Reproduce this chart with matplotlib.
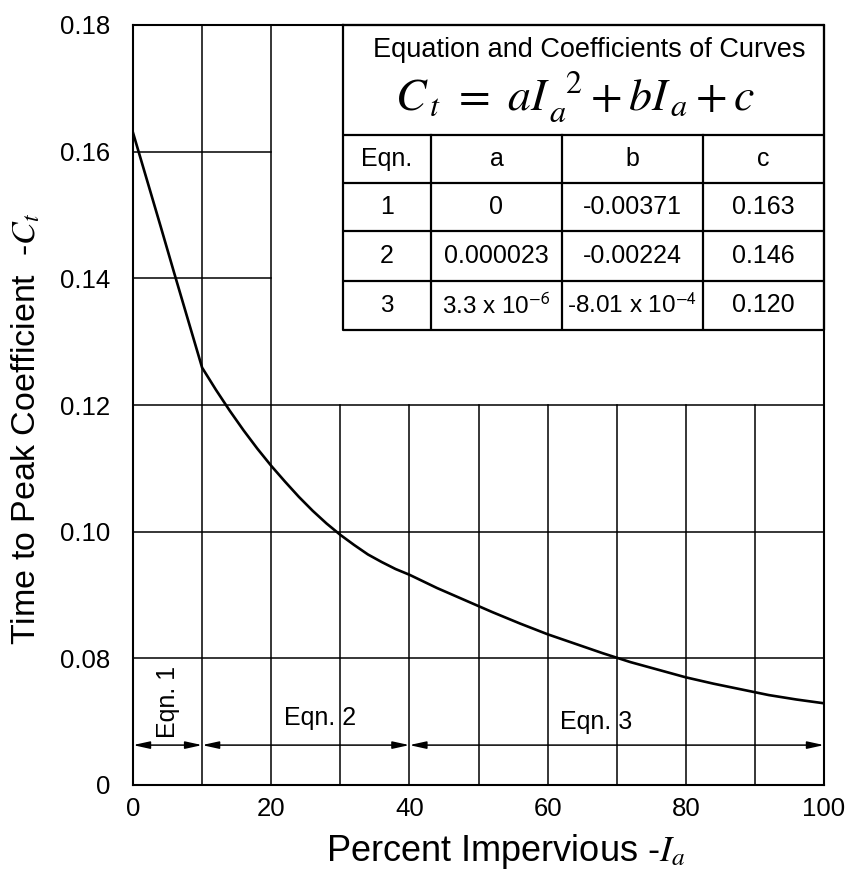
import matplotlib
matplotlib.use("Agg")
import matplotlib.pyplot as plt

plt.rcParams['font.family'] = ['Liberation Sans', 'DejaVu Sans']
plt.rcParams['mathtext.fontset'] = 'stix'

# Curve
impervious = [0, 2, 4, 6, 8, 10, 12, 14, 16, 18, 20, 22, 24, 26, 28, 30, 32, 34, 36, 38, 40,
              44, 48, 52, 56, 60, 64, 68, 72, 76, 80, 84, 88, 92, 96, 100]
ct = [0.1630, 0.1556, 0.1482, 0.1407, 0.1333, 0.1259, 0.1224, 0.1191, 0.1160, 0.1131, 0.1104,
      0.1079, 0.1055, 0.1033, 0.1013, 0.0995, 0.0979, 0.0964, 0.0952, 0.0941, 0.0932,
      0.0911, 0.0892, 0.0873, 0.0855, 0.0838, 0.0823, 0.0808, 0.0794, 0.0782, 0.0770,
      0.0760, 0.0751, 0.0742, 0.0735, 0.0729]

x_ticks = [0, 20, 40, 60, 80, 100]
y_ticks = [0.06, 0.08, 0.10, 0.12, 0.14, 0.16, 0.18]
y_tick_labels = ['0', '0.08', '0.10', '0.12', '0.14', '0.16', '0.18']

# equation ranges
eqn_labels = ['Eqn. 1', 'Eqn. 2', 'Eqn. 3']
eqn_ranges = [(0, 10), (10, 40), (40, 100)]

table_header = ['Eqn.', 'a', 'b', 'c']
table_rows = [
    ['1', '0', '-0.00371', '0.163'],
    ['2', '0.000023', '-0.00224', '0.146'],
    ['3', r'3.3 x 10$^{\mathsf{-6}}$', r'-8.01 x 10$^{\mathsf{-4}}$', '0.120'],
]

W, H = 851, 874
fig = plt.figure(figsize=(W / 100, H / 100), dpi=100)
ax = fig.add_axes([133 / W, 1 - 785 / H, (824 - 133) / W, (785 - 25) / H])
ax.set_xlim(0, 100)
ax.set_ylim(0.06, 0.18)

lc = 'black'
glw = 1.1
# grid lines
for yv in [0.08, 0.10, 0.12]:
    ax.plot([0, 100], [yv, yv], color=lc, lw=glw)
for yv in [0.14, 0.16]:
    ax.plot([0, 20], [yv, yv], color=lc, lw=glw)
for xv in [10, 20]:
    ax.plot([xv, xv], [0.06, 0.18], color=lc, lw=glw)
for xv in [30, 40, 50, 60, 70, 80, 90]:
    ax.plot([xv, xv], [0.06, 0.12], color=lc, lw=glw)

for s in ax.spines.values():
    s.set_linewidth(1.5)

ax.plot(impervious, ct, color='black', lw=1.9, zorder=5)

ax.set_xticks(x_ticks)
ax.set_yticks(y_ticks)
ax.set_yticklabels(y_tick_labels)
ax.tick_params(length=0, labelsize=18.5)
ax.tick_params(axis='x', pad=9)
ax.tick_params(axis='y', pad=16.5)

ax.set_xlabel(r'Percent Impervious -$\mathit{I_a}$', fontsize=26)
ax.xaxis.set_label_coords(0.54, -0.062)
ax.set_ylabel(r'Time to Peak Coefficient  -$\mathit{C_t}$', fontsize=24.5)
ax.yaxis.set_label_coords(-0.131, 0.468)

# arrows
arrow_y = 0.0663
for lo, hi in eqn_ranges:
    ax.annotate('', xy=(hi, arrow_y), xytext=(lo, arrow_y),
                arrowprops=dict(arrowstyle='<|-|>,head_length=1.0,head_width=0.22',
                                color='black', lw=1.1, shrinkA=0, shrinkB=0))
ax.text(5.1, 0.0731, eqn_labels[0], rotation=90, ha='center', va='center', fontsize=18)
ax.text(27, 0.0706, eqn_labels[1], ha='center', va='center', fontsize=18)
ax.text(67, 0.0700, eqn_labels[2], ha='center', va='center', fontsize=18)

# table in pixel coordinates
tx0, tx1, ty0, ty1 = 343, 824, 25, 330
tab = fig.add_axes([tx0 / W, 1 - ty1 / H, (tx1 - tx0) / W, (ty1 - ty0) / H])
tab.set_xlim(tx0, tx1)
tab.set_ylim(ty1, ty0)
tab.axis('off')
row_y = [25, 135, 183, 231, 281, 330]
col_x = [343, 431, 562, 703, 824]
tlw = 1.6
tab.plot([tx0, tx1, tx1, tx0, tx0], [ty0, ty0, ty1, ty1, ty0], color=lc, lw=tlw, clip_on=False)
for yv in row_y[1:-1]:
    tab.plot([tx0, tx1], [yv, yv], color=lc, lw=tlw)
for xv in col_x[1:-1]:
    tab.plot([xv, xv], [row_y[1], ty1], color=lc, lw=tlw)

tab.text(589, 50, 'Equation and Coefficients of Curves', ha='center', va='center', fontsize=19.5)
tab.text(575, 97, r'$C_{\,t}\ =\ aI_{\,a}^{\ \ 2}+bI_{\,a}+c$', ha='center', va='center', fontsize=33)

centers = [(col_x[i] + col_x[i + 1]) / 2 for i in range(4)]
hy = (row_y[1] + row_y[2]) / 2
for cx, t in zip(centers, table_header):
    tab.text(cx, hy, t, ha='center', va='center', fontsize=18)
for r, row in enumerate(table_rows):
    cy = (row_y[r + 2] + row_y[r + 3]) / 2
    for cx, t in zip(centers, row):
        tab.text(cx, cy, t, ha='center', va='center', fontsize=17.5 if r == 2 and cx < 700 else 18)

fig.savefig('out.png', dpi=100)
